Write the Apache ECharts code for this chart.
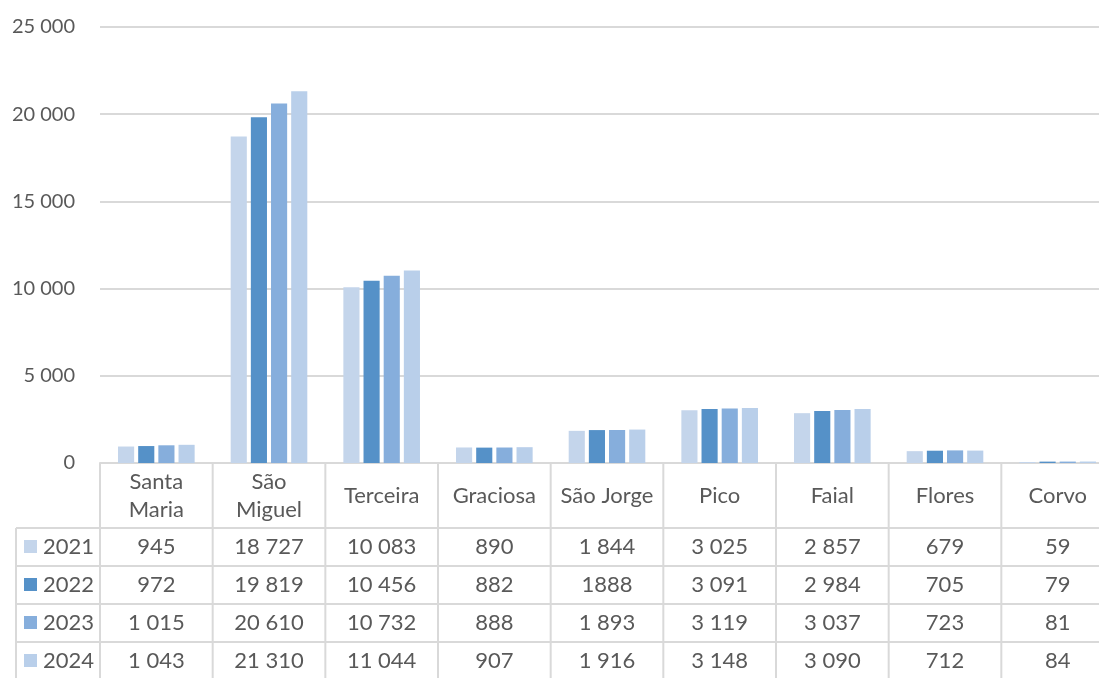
<!DOCTYPE html>
<html>
<head>
<meta charset="utf-8">
<script src="https://cdn.jsdelivr.net/npm/echarts@6/dist/echarts.min.js"></script>
<style>
  html, body { margin: 0; padding: 0; background: #fff; overflow: hidden; }
  /* the last column runs past the right edge of the picture, as in the source */
  #chart { width: 1120px; height: 678px; }
</style>
</head>
<body>
<div id="chart"></div>
<script>
  var islands = ['Santa Maria', 'São Miguel', 'Terceira', 'Graciosa', 'São Jorge', 'Pico', 'Faial', 'Flores', 'Corvo'];
  var headerLabels = ['Santa\nMaria', 'São\nMiguel', 'Terceira', 'Graciosa', 'São Jorge', 'Pico', 'Faial', 'Flores', 'Corvo'];
  var years = ['2021', '2022', '2023', '2024'];
  var values2021 = [945, 18727, 10083, 890, 1844, 3025, 2857, 679, 59];
  var values2022 = [972, 19819, 10456, 882, 1888, 3091, 2984, 705, 79];
  var values2023 = [1015, 20610, 10732, 888, 1893, 3119, 3037, 723, 81];
  var values2024 = [1043, 21310, 11044, 907, 1916, 3148, 3090, 712, 84];
  var yTicks = [0, 5000, 10000, 15000, 20000, 25000];
  // the source table prints 2022 / São Jorge without the thousands space
  var noSpaceCells = ['2022|São Jorge'];

  var seriesValues = [values2021, values2022, values2023, values2024];
  var colors = ['#c4d5eb', '#5591c8', '#86aedc', '#b9cfea'];
  var textColor = '#595959';
  var lineColor = '#d9d9d9';
  var font = 'Lato';
  var tableFont = '22px ' + font;

  function fmt(v, noSpace) {
    var s = String(v);
    if (noSpace) return s;
    return s.replace(/\B(?=(\d{3})+(?!\d))/g, ' ');
  }

  var myChart = echarts.init(document.getElementById('chart'));
  var option = {
    animation: false,
    textStyle: {fontFamily: font},
    grid: {left: 100, top: 27, width: 1014, height: 436, containLabel: false},
    xAxis: {
      type: 'category',
      data: islands,
      axisLine: {lineStyle: {color: lineColor, width: 2}},
      axisTick: {show: false},
      axisLabel: {show: false}
    },
    yAxis: {
      type: 'value',
      min: yTicks[0],
      max: yTicks[yTicks.length - 1],
      interval: 5000,
      axisLine: {show: false},
      axisTick: {show: false},
      splitLine: {lineStyle: {color: lineColor, width: 2}},
      axisLabel: {
        color: textColor,
        fontSize: 20,
        fontFamily: font,
        margin: 25,
        formatter: function (v) { return fmt(v); }
      }
    },
    series: years.map(function (y, i) {
      return {
        name: y,
        type: 'bar',
        data: seriesValues[i],
        barGap: '25%',
        barCategoryGap: '32%',
        itemStyle: {color: colors[i]}
      };
    })
  };
  myChart.setOption(option);

  // data table under the plot
  var centers = islands.map(function (c, i) {
    return myChart.convertToPixel({xAxisIndex: 0}, i);
  });
  var colW = centers[1] - centers[0];
  var left = centers[0] - colW / 2;
  var right = left + colW * islands.length;
  var axisY = myChart.convertToPixel({yAxisIndex: 0}, 0);
  var headerBottom = axisY + 65;
  var rowH = 38;
  var tableLeft = 16;
  var bottom = headerBottom + rowH * years.length;
  var elements = [];

  function line(x1, y1, x2, y2) {
    elements.push({
      type: 'line',
      shape: {x1: x1, y1: y1, x2: x2, y2: y2},
      style: {stroke: lineColor, lineWidth: 2}
    });
  }

  for (var k = 0; k <= islands.length; k++) {
    line(left + k * colW, axisY, left + k * colW, bottom);
  }
  line(tableLeft, headerBottom, tableLeft, bottom);
  for (var r = 0; r <= years.length; r++) {
    line(tableLeft, headerBottom + r * rowH, right, headerBottom + r * rowH);
  }

  headerLabels.forEach(function (name, i) {
    elements.push({
      type: 'text',
      x: centers[i],
      y: axisY + 33,
      style: {
        text: name, fill: textColor, font: tableFont,
        align: 'center', verticalAlign: 'middle', lineHeight: 28
      }
    });
  });

  years.forEach(function (y, r) {
    var cy = headerBottom + r * rowH + rowH / 2;
    elements.push({
      type: 'rect',
      shape: {x: 24, y: cy - 7, width: 13, height: 13},
      style: {fill: colors[r]}
    });
    elements.push({
      type: 'text',
      x: 43,
      y: cy,
      style: {text: y, fill: textColor, font: tableFont, align: 'left', verticalAlign: 'middle'}
    });
    seriesValues[r].forEach(function (v, i) {
      var noSpace = noSpaceCells.indexOf(y + '|' + islands[i]) >= 0;
      elements.push({
        type: 'text',
        x: centers[i],
        y: cy,
        style: {text: fmt(v, noSpace), fill: textColor, font: tableFont, align: 'center', verticalAlign: 'middle'}
      });
    });
  });

  myChart.setOption({graphic: {elements: elements}});
</script>
</body>
</html>
